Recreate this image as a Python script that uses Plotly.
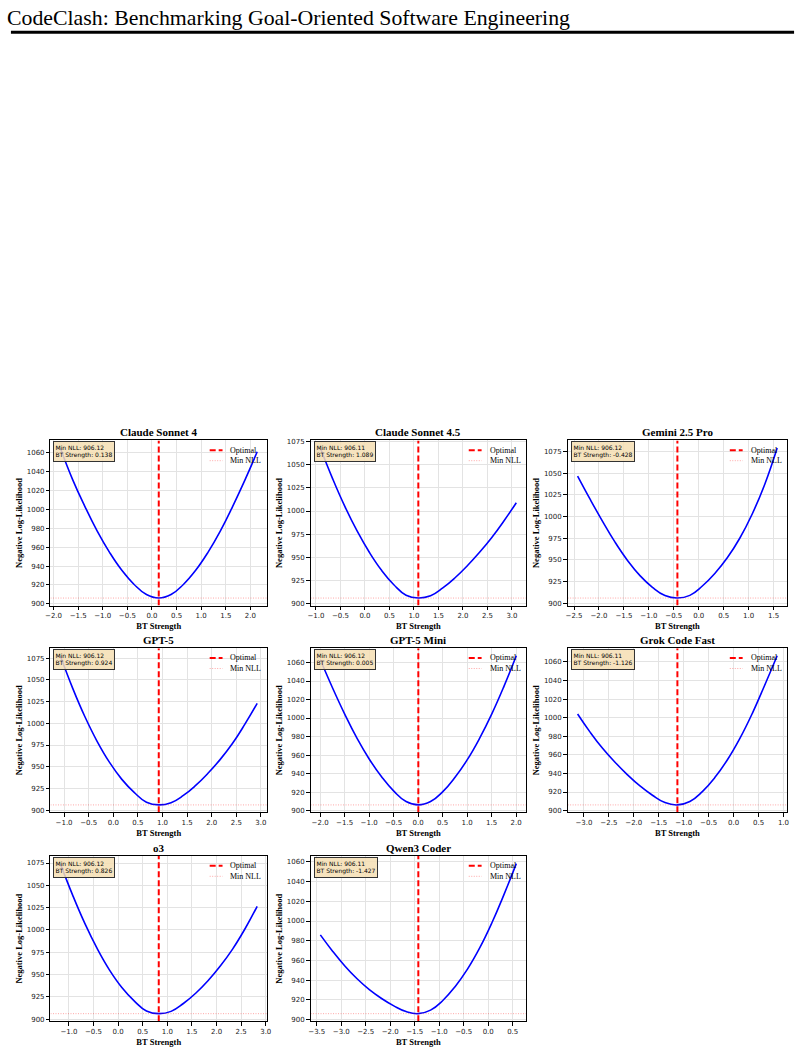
import plotly.graph_objects as go

# ---------------- data ----------------
models = ["Claude Sonnet 4", "Claude Sonnet 4.5", "Gemini 2.5 Pro", "GPT-5",
          "GPT-5 Mini", "Grok Code Fast", "o3", "Qwen3 Coder"]
min_nll = [906.12, 906.11, 906.12, 906.12, 906.12, 906.11, 906.12, 906.11]
bt_strength = [0.138, 1.089, -0.428, 0.924, 0.005, -1.126, 0.826, -1.427]

# offsets (from each model's optimal BT strength) at which the curve was read
offsets = [-2.0, -1.75, -1.5, -1.25, -1.0, -0.75, -0.5, -0.25, 0.0,
           0.25, 0.5, 0.75, 1.0, 1.25, 1.5, 1.75, 2.0]

nll_claude_sonnet_4 = [1065, 1031.5, 1003, 977, 954.5, 935.5, 920.5, 909.8, 906.12,
                       909.8, 920.5, 935.5, 954.5, 977, 1003, 1031, 1061]
nll_claude_sonnet_45 = [1068, 1035, 1005, 978.5, 955.5, 936, 920.5, 909.2, 906.11,
                        908.5, 917, 928, 941, 955.5, 971.5, 989.5, 1009]
nll_gemini_25_pro = [1046.6, 1020, 994.5, 970.5, 949.5, 932, 918.5, 909, 906.12,
                     909.2, 920, 934.5, 952.5, 975, 1003, 1037, 1079]
nll_gpt_5 = [1077.7, 1040.5, 1007.5, 979, 955, 935.5, 920.5, 909.2, 906.12,
             908.7, 917, 928.5, 942.5, 958.5, 977, 999, 1023]
nll_gpt_5_mini = [1063, 1032.5, 1004, 978, 955.5, 936.5, 921, 909.8, 906.12,
                  909.8, 920.5, 936, 955, 978, 1004.5, 1034.5, 1067.3]
nll_grok_code_fast = [1004, 984.5, 967, 952, 938.5, 926.5, 916.5, 908.6, 906.11,
                      909.8, 920.5, 935.5, 954.5, 977.5, 1004.5, 1035, 1066.7]
nll_o3 = [1074.3, 1039, 1007, 979, 955, 935.5, 920.5, 909.2, 906.12,
          908.7, 917.5, 929, 943, 959.5, 978.5, 1001, 1026.5]
nll_qwen3_coder = [986, 969.5, 954.5, 941.5, 930.5, 921.5, 914, 908.2, 906.11,
                   909.7, 919.5, 933.5, 951, 972.5, 998, 1027, 1058.2]

nll_curves = [nll_claude_sonnet_4, nll_claude_sonnet_45, nll_gemini_25_pro, nll_gpt_5,
              nll_gpt_5_mini, nll_grok_code_fast, nll_o3, nll_qwen3_coder]
y_tick_step = [20, 25, 25, 25, 20, 20, 25, 20]
legend_labels = ["Optimal", "Min NLL"]
header_text = "CodeClash: Benchmarking Goal-Oriented Software Engineering"

# ---------------- layout geometry ----------------
W, H = 804, 1055
col_px = [(46, 265), (309, 527), (569, 791)]
row_px = [(440, 606), (649, 814), (858, 1024)]


def px_x(p):
    return p / W


def px_y(p):
    return 1 - p / H


SERIF = "Liberation Serif, Times New Roman, serif"
SANS = "DejaVu Sans, sans-serif"
RED_DASH = dict(color="#ff0000", width=2, dash="6px,3px")
RED_DOT = dict(color="rgba(255,0,0,0.35)", width=1, dash="1px,1.5px")

fig = go.Figure()
layout = dict(
    width=W, height=H, margin=dict(l=0, r=0, t=0, b=0),
    paper_bgcolor="white", plot_bgcolor="white", showlegend=False,
)
annotations = []
shapes = []

for i, name in enumerate(models):
    r, c = divmod(i, 3)
    n = i + 1
    xa = "xaxis" if n == 1 else f"xaxis{n}"
    ya = "yaxis" if n == 1 else f"yaxis{n}"
    xr = "x" if n == 1 else f"x{n}"
    yr = "y" if n == 1 else f"y{n}"

    opt = bt_strength[i]
    xs = [opt + d for d in offsets]
    ys = nll_curves[i]
    ymin, ymax = min(ys), max(ys)
    span = ymax - ymin
    y0, y1 = ymin - 0.05 * span, ymax + 0.05 * span
    xspan = xs[-1] - xs[0]
    x0, x1 = xs[0] - 0.05 * xspan, xs[-1] + 0.05 * xspan

    dx = (px_x(col_px[c][0]), px_x(col_px[c][1]))
    dy = (px_y(row_px[r][1]), px_y(row_px[r][0]))

    fig.add_trace(go.Scatter(
        x=xs, y=ys, mode="lines",
        line=dict(color="#0000ff", width=1.6, shape="spline", smoothing=1.3),
        xaxis=xr, yaxis=yr, hoverinfo="skip"))
    fig.add_trace(go.Scatter(
        x=[opt, opt], y=[y0, y1], mode="lines", name=legend_labels[0],
        line=RED_DASH, xaxis=xr, yaxis=yr))
    fig.add_trace(go.Scatter(
        x=[x0, x1], y=[min_nll[i], min_nll[i]], mode="lines", name=legend_labels[1],
        line=RED_DOT, xaxis=xr, yaxis=yr))

    axis_common = dict(
        showline=True, mirror=True, linecolor="black", linewidth=1,
        ticks="outside", ticklen=3.5, tickwidth=0.8, tickcolor="black",
        showgrid=True, gridcolor="#e3e3e3", gridwidth=0.8, zeroline=False,
        tickfont=dict(family=SANS, size=7, color="#222"),
    )
    layout[xa] = dict(axis_common, domain=list(dx), anchor=yr, range=[x0, x1],
                      dtick=0.5, tick0=0, tickformat=".1f",
                      title=dict(text="<b>BT Strength</b>", standoff=3,
                                 font=dict(family=SERIF, size=8.5, color="black")))
    layout[ya] = dict(axis_common, domain=list(dy), anchor=xr, range=[y0, y1],
                      dtick=y_tick_step[i], tick0=0,
                      title=dict(text="<b>Negative Log-Likelihood</b>", standoff=2,
                                 font=dict(family=SERIF, size=8.5, color="black")))

    # hand-drawn legend (upper right)
    right_px = col_px[c][1]
    top_px = row_px[r][0]
    for lbl, ln, off in zip(legend_labels, [RED_DASH, RED_DOT], [9.7, 20.3]):
        shapes.append(dict(type="line", xref="paper", yref="paper",
                           x0=px_x(right_px - 58), x1=px_x(right_px - 45),
                           y0=px_y(top_px + off), y1=px_y(top_px + off),
                           line=ln))
        annotations.append(dict(
            text=lbl, x=px_x(right_px - 39), y=px_y(top_px + off),
            xref="paper", yref="paper", xanchor="left", yanchor="middle",
            showarrow=False, font=dict(family=SERIF, size=8, color="black")))

    # subplot title
    annotations.append(dict(
        text=f"<b>{name}</b>", x=(dx[0] + dx[1]) / 2, y=px_y(row_px[r][0] - 8.5),
        xref="paper", yref="paper", xanchor="center", yanchor="middle",
        showarrow=False, font=dict(family=SERIF, size=11, color="black")))
    # info box
    annotations.append(dict(
        text=f"Min NLL: {min_nll[i]:.2f}<br>BT Strength: {opt:.3f}",
        x=px_x(col_px[c][0] + 3), y=px_y(row_px[r][0] + 0.5), xref="paper", yref="paper",
        xanchor="left", yanchor="top", align="left", showarrow=False,
        bgcolor="rgba(245,222,179,0.85)", bordercolor="#333", borderwidth=1, borderpad=1.5,
        font=dict(family=SANS, size=6, color="black")))

# header
annotations.append(dict(
    text=header_text, x=px_x(0), y=px_y(1), xref="paper", yref="paper",
    xanchor="left", yanchor="top", showarrow=False,
    font=dict(family=SERIF, size=21.8, color="black")))
shapes.append(dict(type="rect", xref="paper", yref="paper",
                   x0=px_x(6), x1=px_x(798), y0=px_y(31), y1=px_y(28),
                   fillcolor="black", line=dict(width=0)))

layout["annotations"] = annotations
layout["shapes"] = shapes
fig.update_layout(**layout)
fig.write_html("out.html")
